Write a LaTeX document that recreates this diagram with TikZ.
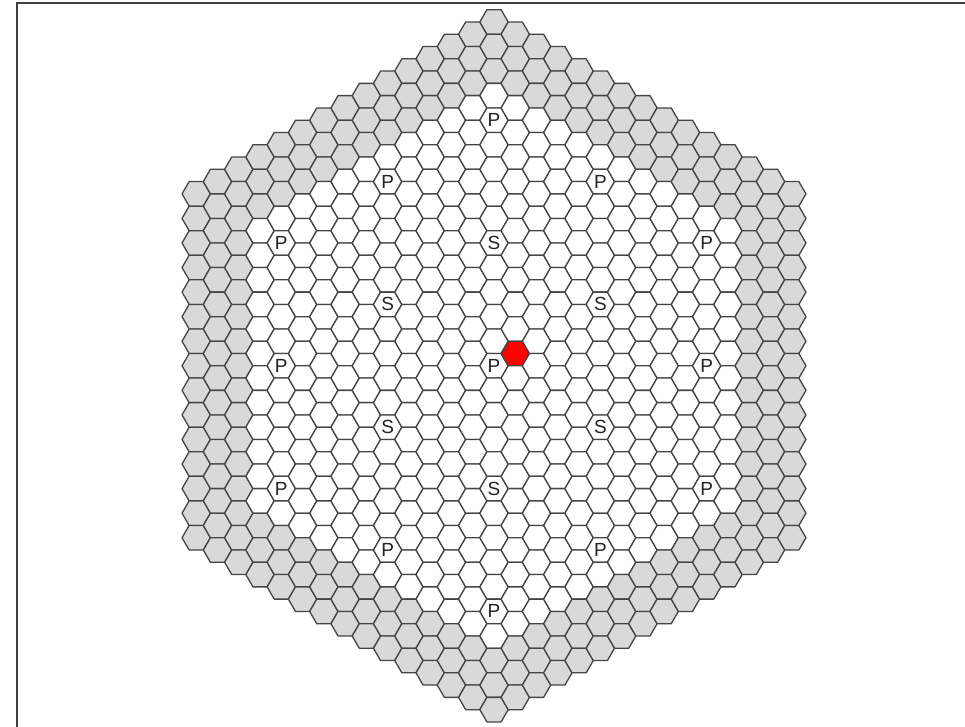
\documentclass[tikz,border=0pt]{standalone}
\usepackage{fontspec}
\setmainfont{Liberation Sans}
\definecolor{hexgray}{HTML}{D9D9D9}
\definecolor{hexline}{HTML}{454545}
\definecolor{labelcol}{HTML}{222222}
\definecolor{framecol}{HTML}{404040}
\begin{document}
\begin{tikzpicture}[x=1pt,y=-1pt,
  hexcell/.style={draw=hexline, line width=1.3pt, line join=round},
  lbl/.style={font=\fontsize{19}{19}\selectfont, text=labelcol, inner sep=0pt},
  framestyle/.style={draw=framecol, line width=1.6pt}]
\useasboundingbox (0,0) rectangle (965,727);
\def\R{14.18}
\def\cx{494}
\def\cy{365.8}
% frame (top and left edges visible)
\coordinate (fTR) at (965,3);
\coordinate (fTL) at (17,3);
\coordinate (fBL) at (17,727);
\draw[framestyle] (fTR) -- (fTL) -- (fBL);
% hex grid
\foreach \qq in {-14,...,14}{
  \pgfmathtruncatemacro{\rmin}{max(-14,-14-\qq)}
  \pgfmathtruncatemacro{\rmax}{min(14,14-\qq)}
  \foreach \rr in {\rmin,...,\rmax}{
    \pgfmathtruncatemacro{\hd}{max(abs(\qq),abs(\rr),abs(\qq+\rr))}
    \pgfmathsetmacro{\hx}{\cx+1.5*\R*\qq}
    \pgfmathsetmacro{\hy}{\cy+sqrt(3)*\R*(\rr+\qq/2)}
    \ifnum\hd>11 \def\fillc{hexgray}\else\def\fillc{white}\fi
    \ifnum\qq=1 \ifnum\rr=-1 \def\fillc{red}\fi\fi
    \draw[hexcell, fill=\fillc, shift={(\hx,\hy)}]
      (0:\R) -- (60:\R) -- (120:\R) -- (180:\R) -- (240:\R) -- (300:\R) -- cycle;
  }
}
% labels
\foreach \qq/\rr/\tt/\nm in {0/0/P/pc,
  0/-10/P/p1, 5/-10/P/p2, 10/-10/P/p3, 10/-5/P/p4, 10/0/P/p5, 5/5/P/p6,
  0/10/P/p7, -5/10/P/p8, -10/10/P/p9, -10/5/P/p10, -10/0/P/p11, -5/-5/P/p12,
  0/-5/S/s1, 5/-5/S/s2, 5/0/S/s3, 0/5/S/s4, -5/5/S/s5, -5/0/S/s6}{
  \pgfmathsetmacro{\hx}{\cx+1.5*\R*\qq}
  \pgfmathsetmacro{\hy}{\cy+sqrt(3)*\R*(\rr+\qq/2)}
  \node[lbl] (\nm) at (\hx,\hy) {\tt};
}
\end{tikzpicture}
\end{document}
